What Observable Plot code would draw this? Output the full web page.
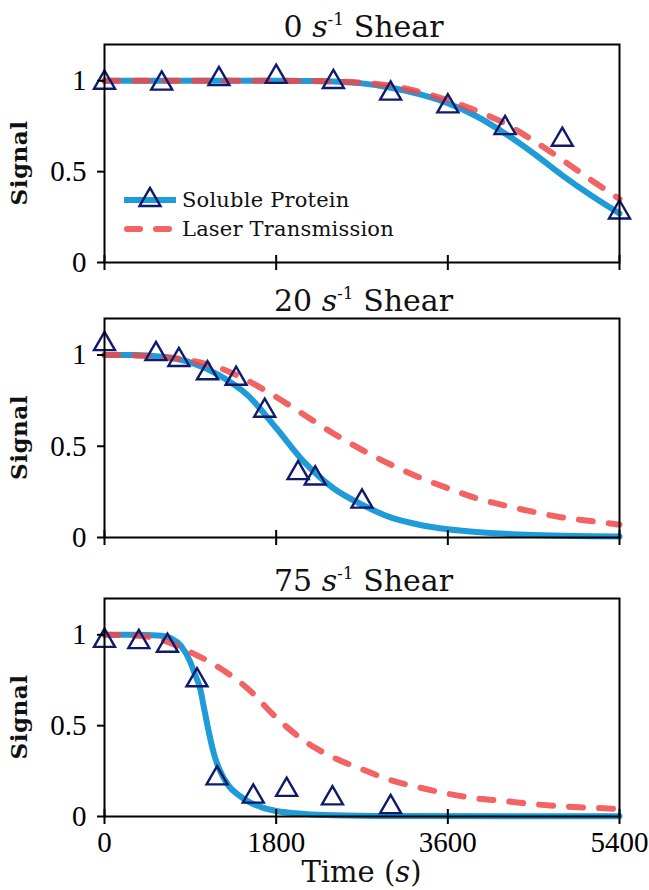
<!DOCTYPE html>
<html>
<head>
<meta charset="utf-8">
<script src="https://cdn.jsdelivr.net/npm/d3@7"></script>
<script src="https://cdn.jsdelivr.net/npm/@observablehq/plot@0.6"></script>
<style>
  body { margin: 0; background: #fff; }
  #chart { position: relative; width: 649px; height: 890px; overflow: hidden; }
  #chart svg { display: block; }
  #legend { position: absolute; left: 118px; top: 186px; }
  #chart g[aria-label*="tick label"], #chart g[aria-label*="tick label"] text {
    font-size: 29px !important; font-family: 'Liberation Serif', serif !important;
  }
</style>
</head>
<body>
<div id="chart"></div>
<script>
// ---------- data ----------
const xTicks = [0, 1800, 3600, 5400];
const yTicks = [0, 0.5, 1];
const shearRates = ["0", "20", "75"];
const seriesNames = ["Soluble Protein", "Laser Transmission"];

// common sampling of the fitted curves (s)
const fitTime = [0,300,600,900,1200,1500,1800,2100,2400,2700,3000,3300,3600,3900,4200,4500,4800,5100,5400];

// 0 s^-1
const obsTime0   = [0,600,1200,1800,2400,3000,3600,4200,4800,5400];
const obsSignal0 = [0.99,0.985,1.01,1.022,0.994,0.93,0.86,0.74,0.676,0.276];
const protein0   = [1,1,1,1,1,1,1,0.999,0.997,0.986,0.962,0.927,0.877,0.805,0.71,0.6,0.48,0.37,0.27];
const laser0     = [1,1,1,1,1,1,1,0.999,0.997,0.99,0.972,0.94,0.893,0.835,0.765,0.67,0.565,0.455,0.35];

// 20 s^-1
const obsTime20   = [0,540,780,1080,1380,1680,2030,2210,2700];
const obsSignal20 = [1.06,1.005,0.973,0.9,0.87,0.695,0.353,0.324,0.197];
const protein20   = [1,1,0.99,0.96,0.89,0.78,0.6,0.41,0.27,0.18,0.11,0.07,0.045,0.03,0.02,0.014,0.01,0.007,0.005];
const laser20     = [1,0.998,0.99,0.97,0.93,0.86,0.77,0.67,0.57,0.48,0.4,0.33,0.27,0.215,0.175,0.14,0.11,0.09,0.07];

// 75 s^-1
const obsTime75   = [0,360,660,970,1180,1560,1910,2390,3000];
const obsSignal75 = [0.967,0.96,0.94,0.75,0.21,0.11,0.147,0.1,0.052];
const proteinTime75 = [0,300,600,700,800,900,950,1000,1050,1100,1150,1200,1300,1400,1500,1650,1800,2100,2400,3000,4200,5400];
const protein75     = [1,1,0.995,0.98,0.94,0.85,0.78,0.71,0.58,0.45,0.34,0.265,0.17,0.12,0.085,0.05,0.03,0.014,0.007,0.003,0.002,0.002];
const laser75       = [1,0.997,0.972,0.905,0.82,0.705,0.545,0.415,0.325,0.26,0.2,0.16,0.125,0.1,0.085,0.068,0.056,0.048,0.042];

// ---------- styling ----------
const BLUE = "#1f9bd7";
const RED = "#f04848";
const NAVY = "#0f1a6b";
const SERIF = "'DejaVu Serif', serif";
const TICKFONT = "Liberation Serif";
const TRI_R = 7.8;

const panels = [
  {shear: shearRates[0], obsT: obsTime0, obsV: obsSignal0, protT: fitTime, prot: protein0, laserT: fitTime, laser: laser0, height: 282, mt: 44, mb: 20},
  {shear: shearRates[1], obsT: obsTime20, obsV: obsSignal20, protT: fitTime, prot: protein20, laserT: fitTime, laser: laser20, height: 278, mt: 36, mb: 23},
  {shear: shearRates[2], obsT: obsTime75, obsV: obsSignal75, protT: proteinTime75, prot: protein75, laserT: fitTime, laser: laser75, height: 330, mt: 38, mb: 74}
];

const chart = document.getElementById("chart");

panels.forEach((p, idx) => {
  const isLast = idx === panels.length - 1;
  const obs = p.obsT.map((t, i) => ({t, v: p.obsV[i]}));
  const prot = p.protT.map((t, i) => ({t, v: p.prot[i]}));
  const laser = p.laserT.map((t, i) => ({t, v: p.laser[i]}));
  const innerH = p.height - p.mt - p.mb;

  const marks = [
    Plot.line(prot, {x: "t", y: "v", stroke: BLUE, strokeWidth: 6, curve: "monotone-x"}),
    Plot.line(laser, {x: "t", y: "v", stroke: RED, strokeWidth: 6, strokeOpacity: 0.85,
      strokeDasharray: "14,16", strokeLinecap: "round", curve: "monotone-x"}),
    Plot.dot(obs, {x: "t", y: "v", symbol: "triangle", r: TRI_R, stroke: NAVY, strokeWidth: 2.4, fill: "none"}),
    Plot.frame({stroke: "black", strokeWidth: 2}),
    Plot.tickX(xTicks, {x: d => d, stroke: "black", strokeWidth: 2, insetTop: innerH - 7, insetBottom: -8}),
    Plot.axisY({ticks: yTicks, tickSize: 7, tickPadding: 11, strokeWidth: 2, tickFormat: d => String(d),
      label: null, fontSize: 29, fontFamily: TICKFONT})
  ];
  if (isLast) {
    marks.push(Plot.axisX({ticks: xTicks, tickSize: 0, tickPadding: 15, tickFormat: d => String(d),
      label: null, fontSize: 29, fontFamily: TICKFONT}));
  }

  const svg = Plot.plot({
    width: 649,
    height: p.height,
    marginLeft: 104,
    marginRight: 30,
    marginTop: p.mt,
    marginBottom: p.mb,
    style: {fontFamily: TICKFONT, fontSize: "29px", color: "black", background: "white", overflow: "visible"},
    x: {domain: [0, 5400], axis: null},
    y: {domain: [0, 1.2], axis: null},
    marks
  });
  chart.appendChild(svg);

  const xs = svg.scale("x"), ys = svg.scale("y");
  const cx = (xs.range[0] + xs.range[1]) / 2;
  const top = ys.apply(1.2);
  const bottom = ys.apply(0);
  const sel = d3.select(svg);

  // title
  const title = sel.append("text")
    .attr("x", cx + 2).attr("y", top - 7)
    .attr("text-anchor", "middle")
    .style("font-family", SERIF).style("font-size", "30px").attr("fill", "#111");
  title.append("tspan").text(p.shear + " ");
  title.append("tspan").style("font-style", "italic").text("s");
  title.append("tspan").attr("dy", -12).style("font-size", "17px").text("-1");
  title.append("tspan").attr("dy", 12).text(" Shear");

  // y label
  sel.append("text")
    .attr("transform", `translate(27,${(top + bottom) / 2 + 10}) rotate(-90)`)
    .attr("text-anchor", "middle")
    .style("font-family", SERIF).style("font-size", "23px").style("font-weight", "bold")
    .style("letter-spacing", "0.5px").attr("fill", "#111")
    .text("Signal");

  if (isLast) {
    const lab = sel.append("text")
      .attr("x", cx).attr("y", bottom + 66)
      .attr("text-anchor", "middle")
      .style("font-family", SERIF).style("font-size", "29px").attr("fill", "#111");
    lab.append("tspan").text("Time (");
    lab.append("tspan").style("font-style", "italic").text("s");
    lab.append("tspan").text(")");
  }
});

// ---------- legend (inside top panel) ----------
const lg = d3.select(chart).append("svg").attr("id", "legend").attr("width", 320).attr("height", 60);
lg.append("line").attr("x1", 6).attr("x2", 58).attr("y1", 14).attr("y2", 14)
  .attr("stroke", BLUE).attr("stroke-width", 6);
lg.append("path").attr("transform", "translate(32,14)")
  .attr("d", d3.symbol(d3.symbolTriangle, Math.PI * TRI_R * TRI_R)())
  .attr("fill", "none").attr("stroke", NAVY).attr("stroke-width", 2.4);
lg.append("line").attr("x1", 9).attr("x2", 55).attr("y1", 43).attr("y2", 43)
  .attr("stroke", RED).attr("stroke-opacity", 0.85).attr("stroke-width", 6)
  .attr("stroke-dasharray", "13,16").attr("stroke-linecap", "round");
seriesNames.forEach((name, i) => {
  lg.append("text").attr("x", 64).attr("y", 21 + i * 29)
    .style("font-family", SERIF).style("font-size", "21px").style("letter-spacing", "0.2px")
    .attr("fill", "#111").text(name);
});
</script>
</body>
</html>
